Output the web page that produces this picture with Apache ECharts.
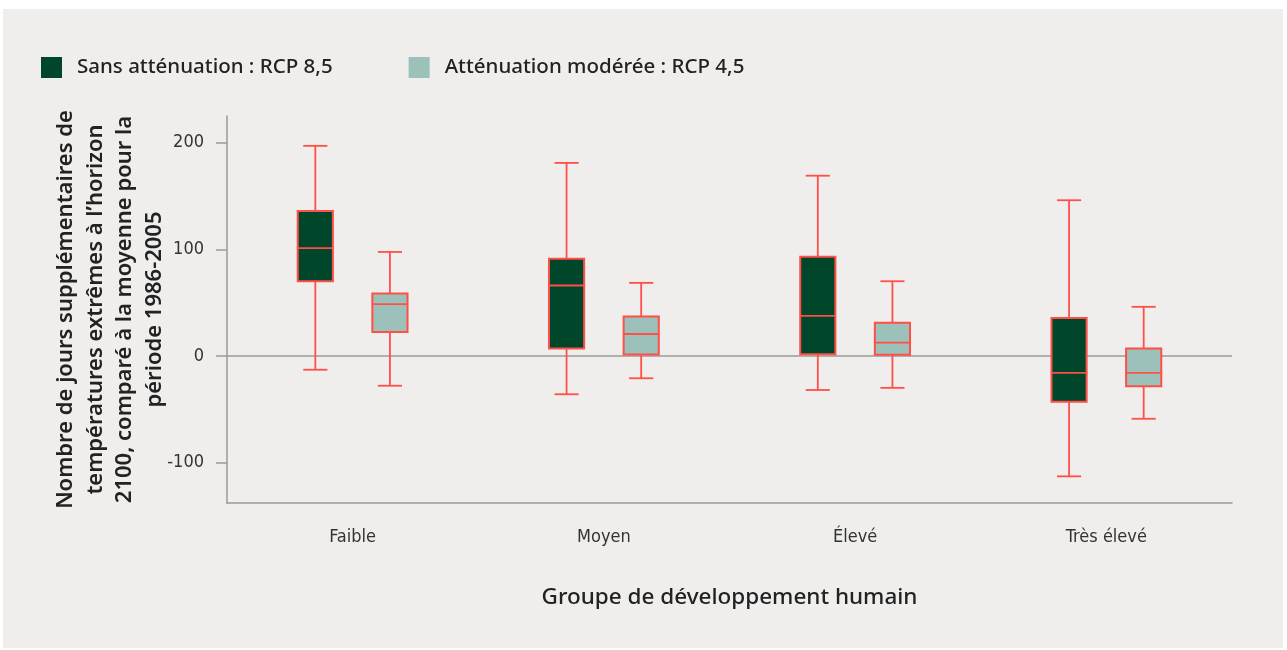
<!DOCTYPE html>
<html>
<head>
<meta charset="utf-8">
<title>Jours de températures extrêmes</title>
<script src="https://cdn.jsdelivr.net/npm/echarts@6/dist/echarts.min.js"></script>
<style>
  html, body { margin: 0; padding: 0; background: #ffffff; }
  #chart { width: 1287px; height: 650px; }
</style>
</head>
<body>
<div id="chart"></div>
<script>
// catégories (groupe de développement humain)
var categories = ['Faible', 'Moyen', 'Élevé', 'Très élevé'];
var seriesNames = ['Sans atténuation : RCP 8,5', 'Atténuation modérée : RCP 4,5'];
// [min, Q1, médiane, Q3, max]
var rcp85 = [
  [-13, 70, 101, 136, 197],
  [-36, 7, 66, 91, 181],
  [-32, 1.5, 37.5, 93, 169],
  [-113, -43, -16, 35.5, 146]
];
var rcp45 = [
  [-28, 22.5, 48.5, 58.5, 97.5],
  [-21, 1.3, 20.5, 37, 68.5],
  [-30, 1, 12.5, 31, 70],
  [-59, -28.5, -16, 7, 46]
];
var yTicks = [-100, 0, 100, 200];

var narrowFont = '"DejaVu Sans Condensed", "Roboto Condensed", Roboto, sans-serif';
var titleFont = '"Noto Sans", sans-serif';

var chart = echarts.init(document.getElementById('chart'));

// ajoute l'index de catégorie devant chaque boîte
function toRows(list) {
  return list.map(function (v, i) {
    return [i].concat(v);
  });
}

// dessine une boîte à moustaches décalée dans la bande de la catégorie
function boxRenderer(offsetFrac) {
  return function (params, api) {
    var idx = api.value(0);
    var band = api.size([1, 0])[0];
    var cx = api.coord([idx, 0])[0] + band * offsetFrac;
    var halfBox = band * 0.07;
    var halfCap = band * 0.048;
    var yMin = api.coord([idx, api.value(1)])[1];
    var yQ1 = api.coord([idx, api.value(2)])[1];
    var yMed = api.coord([idx, api.value(3)])[1];
    var yQ3 = api.coord([idx, api.value(4)])[1];
    var yMax = api.coord([idx, api.value(5)])[1];
    var fill = api.visual('color');
    var stroke = '#ff4f47';
    var line = { stroke: stroke, lineWidth: 1.8 };
    return {
      type: 'group',
      children: [
        { type: 'line', shape: { x1: cx, y1: yMax, x2: cx, y2: yQ3 }, style: line },
        { type: 'line', shape: { x1: cx, y1: yQ1, x2: cx, y2: yMin }, style: line },
        { type: 'line', shape: { x1: cx - halfCap, y1: yMax, x2: cx + halfCap, y2: yMax }, style: line },
        { type: 'line', shape: { x1: cx - halfCap, y1: yMin, x2: cx + halfCap, y2: yMin }, style: line },
        {
          type: 'rect',
          shape: { x: cx - halfBox, y: yQ3, width: halfBox * 2, height: yQ1 - yQ3 },
          style: { fill: fill, stroke: stroke, lineWidth: 2 }
        },
        { type: 'line', shape: { x1: cx - halfBox, y1: yMed, x2: cx + halfBox, y2: yMed }, style: line }
      ]
    };
  };
}

var option = {
  backgroundColor: '#ffffff',
  animation: false,
  graphic: [{
    type: 'rect',
    z: -10,
    silent: true,
    shape: { x: 3, y: 9, width: 1280, height: 639 },
    style: { fill: '#efeeec' }
  }],
  legend: {
    left: 41,
    top: 57,
    padding: 0,
    itemWidth: 21,
    itemHeight: 21,
    itemGap: 76,
    icon: 'rect',
    data: seriesNames,
    textStyle: {
      fontFamily: titleFont,
      fontWeight: 500,
      fontSize: 20.5,
      color: '#222222',
      padding: [0, 0, 0, 10]
    }
  },
  grid: {
    left: 227,
    right: 55,
    top: 116,
    bottom: 147,
    outerBoundsMode: 'none',
    containLabel: false
  },
  xAxis: {
    type: 'category',
    data: categories,
    name: 'Groupe de développement humain',
    nameLocation: 'middle',
    nameGap: 83,
    nameMoveOverlap: false,
    nameTextStyle: {
      fontFamily: titleFont,
      fontWeight: 500,
      fontSize: 22.5,
      color: '#222222'
    },
    axisLine: { onZero: false, lineStyle: { color: '#9a9a9a', width: 1.5 } },
    axisTick: { show: false },
    axisLabel: {
      margin: 25,
      fontFamily: narrowFont,
      fontSize: 18,
      color: '#333333'
    }
  },
  yAxis: {
    type: 'value',
    min: -138,
    max: 225,
    name: 'Nombre de jours supplémentaires de\ntempératures extrêmes à l\u2019horizon\n2100, comparé à la moyenne pour la\npériode 1986-2005',
    nameLocation: 'middle',
    nameGap: 58,
    nameMoveOverlap: false,
    nameTextStyle: {
      fontFamily: titleFont,
      fontWeight: 600,
      fontSize: 22,
      lineHeight: 29.5,
      color: '#222222',
      align: 'center'
    },
    axisLine: { show: true, lineStyle: { color: '#9a9a9a', width: 1.5 } },
    axisTick: {
      show: true,
      length: 11,
      customValues: yTicks,
      lineStyle: { color: '#9a9a9a', width: 1.5 }
    },
    axisLabel: {
      margin: 23,
      customValues: yTicks,
      fontFamily: narrowFont,
      fontSize: 18,
      color: '#333333'
    },
    splitLine: { show: false }
  },
  series: [
    {
      name: seriesNames[0],
      type: 'custom',
      renderItem: boxRenderer(-0.1485),
      itemStyle: { color: '#00462b' },
      encode: { x: 0, y: [1, 2, 3, 4, 5] },
      data: toRows(rcp85),
      markLine: {
        silent: true,
        symbol: 'none',
        label: { show: false },
        lineStyle: { color: '#9a9a9a', width: 1.5, type: 'solid' },
        data: [{ yAxis: 0 }],
        z: 1
      }
    },
    {
      name: seriesNames[1],
      type: 'custom',
      renderItem: boxRenderer(0.1485),
      itemStyle: { color: '#9bc1ba' },
      encode: { x: 0, y: [1, 2, 3, 4, 5] },
      data: toRows(rcp45)
    }
  ]
};

chart.setOption(option);
window.addEventListener('resize', function () {
  chart.resize();
});
</script>
</body>
</html>
